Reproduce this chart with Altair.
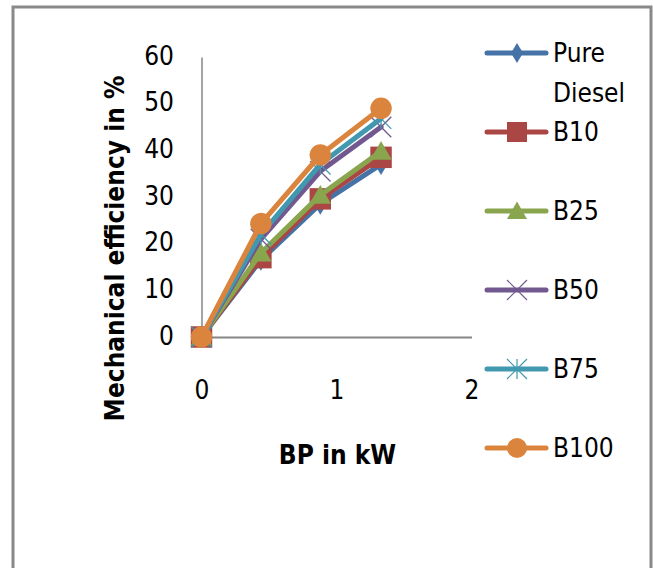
import altair as alt
import pandas as pd

# ---- data ----
bp = [0, 0.44, 0.88, 1.33]
series = ["Pure Diesel", "B10", "B25", "B50", "B75", "B100"]
pure_diesel = [0, 16.5, 28.5, 37.0]
b10 = [0, 17.0, 29.6, 38.5]
b25 = [0, 18.0, 30.4, 39.8]
b50 = [0, 21.0, 35.5, 45.0]
b75 = [0, 22.0, 37.0, 46.8]
b100 = [0, 24.3, 39.0, 49.0]
y_ticks = [0, 10, 20, 30, 40, 50, 60]
x_ticks = [0, 1, 2]
legend_labels = ["Pure\nDiesel", "B10", "B25", "B50", "B75", "B100"]

values = [pure_diesel, b10, b25, b50, b75, b100]
rows = []
for s, vals in zip(series, values):
    for x, v in zip(bp, vals):
        rows.append({"series": s, "bp": x, "eff": v})
df = pd.DataFrame(rows)
leg_df = pd.DataFrame({"series": series, "label": legend_labels,
                       "order": list(range(len(series)))})

# ---- styling ----
FONT = "Liberation Sans Narrow, Arial Narrow, DejaVu Sans Condensed, sans-serif"
colors = ["#4572A7", "#AA4643", "#89A54E", "#71588F", "#4198AF", "#DB843D"]
shapes = [
    "M0,-1L0.6,0L0,1L-0.6,0Z",
    "square",
    "M0,-0.95L1,0.8H-1Z",
    "M-1,-1L1,1M-1,1L1,-1",
    "M-1,-1L1,1M-1,1L1,-1M0,-1L0,1",
    "circle",
]
stroked = {"B50", "B75"}
W, H = 638, 570
AX = "#868686"

color_enc = alt.Color("series:N", scale=alt.Scale(domain=series, range=colors), legend=None)
shape_enc = alt.Shape("series:N", scale=alt.Scale(domain=series, range=shapes), legend=None)

x_enc = alt.X(
    "bp:Q",
    scale=alt.Scale(domain=[0, 2], range=[188.5, 458.5]),
    axis=alt.Axis(
        values=x_ticks, grid=False, ticks=False,
        labelExpr="format(datum.value, '.0f')",
        domainColor=AX, domainWidth=2, offset=-(H - 330),
        labelFont=FONT, labelFontSize=26, labelColor="black",
        labelBaseline="middle", labelPadding=53, labelAlign="center",
        labelFlush=False, labelOverlap=False, labelBound=False,
        title="BP in kW", titleFont=FONT, titleFontSize=26, titleFontWeight="bold",
        titleColor="black", titleX=324, titleY=118, titleBaseline="middle",
        titleAlign="center",
    ),
)
y_enc = alt.Y(
    "eff:Q",
    scale=alt.Scale(domain=[0, 60], range=[330, 50]),
    axis=alt.Axis(
        values=y_ticks, grid=False, ticks=False,
        domainColor=AX, domainWidth=1.5, offset=-188.5,
        labelFont=FONT, labelFontSize=26, labelColor="black",
        labelPadding=28, labelOffset=-1, labelOverlap=False, labelFlush=False,
        title="Mechanical efficiency in %", titleFont=FONT, titleFontSize=26,
        titleFontWeight="bold", titleColor="black", titleX=-86, titleY=241,
        titleAngle=-90, titleAlign="center", titleBaseline="middle",
    ),
)

base = alt.Chart(df)
layers = []
for s in series:
    f = alt.datum.series == s
    line = base.transform_filter(f).mark_line(
        strokeWidth=5, strokeCap="round", strokeJoin="round"
    ).encode(x=x_enc, y=y_enc, color=color_enc, detail="series:N")
    if s in stroked:
        pts = base.transform_filter(f).mark_point(
            filled=False, strokeWidth=1.3, size=420, opacity=1
        ).encode(x=x_enc, y=y_enc, color=color_enc, shape=shape_enc)
    else:
        pts = base.transform_filter(f).mark_point(
            filled=True, size=460, opacity=1
        ).encode(x=x_enc, y=y_enc, color=color_enc, shape=shape_enc)
    layers += [line, pts]
data_layer = alt.layer(*layers)

# ---- legend drawn from the series list ----
leg_y = alt.Y("order:Q", scale=alt.Scale(domain=[0, 5], range=[46, 441]), axis=None)
lbase = alt.Chart(leg_df)
leg_line = lbase.mark_rule(strokeWidth=5, strokeCap="round").encode(
    x=alt.value(474), x2=alt.value(533), y=leg_y, color=color_enc
)
leg_fill = lbase.transform_filter(
    alt.FieldOneOfPredicate(field="series", oneOf=[s for s in series if s not in stroked])
).mark_point(filled=True, size=400, opacity=1).encode(
    x=alt.value(504), y=leg_y, color=color_enc, shape=shape_enc
)
leg_stroke = lbase.transform_filter(
    alt.FieldOneOfPredicate(field="series", oneOf=[s for s in series if s in stroked])
).mark_point(filled=False, strokeWidth=1.2, size=400, opacity=1).encode(
    x=alt.value(504), y=leg_y, color=color_enc, shape=shape_enc
)
leg_text = lbase.mark_text(
    align="left", baseline="alphabetic", dy=9, lineBreak="\n", lineHeight=40,
    font=FONT, fontSize=26, color="black",
).encode(x=alt.value(540), y=leg_y, text="label:N")
legend_layer = alt.layer(leg_line, leg_fill, leg_stroke, leg_text)

chart = (
    alt.layer(data_layer, legend_layer)
    .resolve_scale(y="independent", x="independent")
    .properties(
        width=W, height=H,
        autosize=alt.AutoSizeParams(type="none"),
        padding={"left": 13, "top": 7, "right": 2, "bottom": 0},
        background="white",
    )
    .configure_view(stroke="#898989", strokeWidth=3)
)

chart.save("out.html", embed_options={"renderer": "svg", "actions": False})
